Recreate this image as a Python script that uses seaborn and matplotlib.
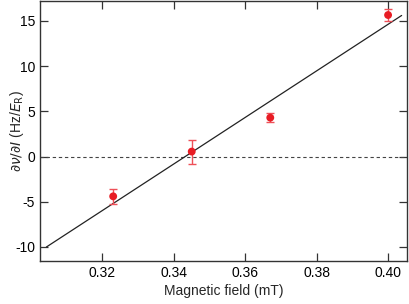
import matplotlib
matplotlib.use("Agg")
import matplotlib.pyplot as plt
import seaborn as sns
import pandas as pd

field = [0.323, 0.345, 0.367, 0.400]
slope_vals = [-4.4, 0.55, 4.3, 15.65]
slope_err = [0.85, 1.33, 0.47, 0.7]
fit_x = [0.3043, 0.4038]
fit_y = [-10.0, 15.6]
x_ticks = [0.32, 0.34, 0.36, 0.38, 0.40]
x_ticklabels = ["0.32", "0.34", "0.36", "0.38", "0.40"]
y_ticks = [-10, -5, 0, 5, 10, 15]

sns.set_theme(style="ticks")
plt.rcParams['font.family'] = ['Liberation Sans', 'DejaVu Sans']
plt.rcParams['mathtext.fontset'] = 'dejavusans'

fig = plt.figure(figsize=(4.09, 3.04), dpi=100)
ax = fig.add_axes([40/409, 43/304, 367/409, 260/304])

df = pd.DataFrame({"field": field, "val": slope_vals, "err": slope_err})
fit = pd.DataFrame({"x": fit_x, "y": fit_y})

ax.axhline(0, color="#444444", lw=0.8, ls=(0, (3, 2.5)), zorder=1)
sns.lineplot(data=fit, x="x", y="y", ax=ax, color="#222222", lw=0.9, zorder=2)
ax.errorbar(df["field"], df["val"], yerr=df["err"], fmt="none",
            ecolor="#ee5058", elinewidth=1.0, capsize=3, capthick=1.0, zorder=3)
sns.scatterplot(data=df, x="field", y="val", ax=ax, color="#e81c24", s=32,
                edgecolor="none", zorder=4)

ax.set_xlim(0.3025, 0.4053)
ax.set_ylim(-11.55, 17.2)
ax.set_xticks(x_ticks)
ax.set_xticklabels(x_ticklabels)
ax.set_yticks(y_ticks)
ax.set_yticklabels([str(v) for v in y_ticks])
ax.tick_params(direction="in", top=True, right=True, length=6, width=0.9,
               labelsize=10, colors="#333333", labelcolor="black", pad=3.5)
for s in ax.spines.values():
    s.set_color("#333333")
    s.set_linewidth(1.0)
ax.set_xlabel("Magnetic field (mT)", fontsize=10, labelpad=3)
ax.set_ylabel(r"$\partial\nu/\partial I$ (Hz/$E_\mathrm{R}$)", fontsize=10,
              va="center")
ax.yaxis.set_label_coords(-23/367, 0.5)

fig.savefig("out.png", dpi=100)
